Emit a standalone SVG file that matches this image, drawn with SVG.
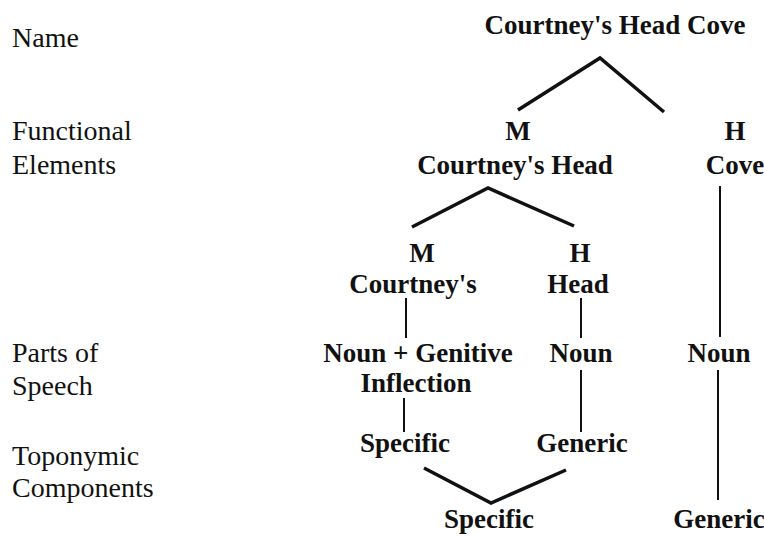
<svg xmlns="http://www.w3.org/2000/svg" width="764" height="537" viewBox="0 0 764 537">
  <style>
    .lbl { font-family: "Liberation Serif", "Times New Roman", serif; font-size: 28px; fill: #111; }
    .node { font-family: "Liberation Serif", "Times New Roman", serif; font-size: 27px; font-weight: bold; fill: #111; text-anchor: middle; }
    .branch { fill: none; stroke: #111; stroke-width: 3.5; stroke-linejoin: miter; }
    .stem { fill: none; stroke: #111; stroke-width: 2; }
  </style>
  <rect width="764" height="537" fill="#fff"/>

  <!-- level labels -->
  <g id="level-labels">
    <text class="lbl" x="12" y="47">Name</text>
    <text class="lbl" x="12" y="140">Functional</text>
    <text class="lbl" x="12" y="174">Elements</text>
    <text class="lbl" x="12" y="362">Parts of</text>
    <text class="lbl" x="12" y="395">Speech</text>
    <text class="lbl" x="12" y="465">Toponymic</text>
    <text class="lbl" x="12" y="497">Components</text>
  </g>

  <!-- connectors -->
  <g id="connectors">
    <polyline class="branch" points="518,110 600,58 664,112"/>
    <polyline class="branch" points="412,227 488,188 574,226"/>
    <line class="stem" x1="720" y1="186" x2="720" y2="337"/>
    <line class="stem" x1="406" y1="298" x2="406" y2="338"/>
    <line class="stem" x1="581" y1="298" x2="581" y2="338"/>
    <line class="stem" x1="404" y1="398" x2="404" y2="432"/>
    <line class="stem" x1="581" y1="370" x2="581" y2="432"/>
    <line class="stem" x1="718" y1="370" x2="718" y2="500"/>
    <polyline class="branch" points="424,468 491,503 566,470"/>
  </g>

  <g id="name"><text class="node" x="615" y="34">Courtney's Head Cove</text></g>
  <g id="m-courtneys-head">
    <text class="node" x="518" y="140">M</text>
    <text class="node" x="515" y="174">Courtney's Head</text>
  </g>
  <g id="h-cove">
    <text class="node" x="735" y="140">H</text>
    <text class="node" x="735" y="174">Cove</text>
  </g>
  <g id="m-courtneys">
    <text class="node" x="422" y="262">M</text>
    <text class="node" x="413" y="293">Courtney's</text>
  </g>
  <g id="h-head">
    <text class="node" x="580" y="262">H</text>
    <text class="node" x="578" y="293">Head</text>
  </g>
  <g id="pos-genitive">
    <text class="node" x="418" y="362">Noun + Genitive</text>
    <text class="node" x="416" y="392">Inflection</text>
  </g>
  <g id="pos-noun-head"><text class="node" x="581" y="362">Noun</text></g>
  <g id="pos-noun-cove"><text class="node" x="719" y="362">Noun</text></g>
  <g id="comp-specific"><text class="node" x="405" y="452">Specific</text></g>
  <g id="comp-generic"><text class="node" x="582" y="452">Generic</text></g>
  <g id="comp-specific-total"><text class="node" x="489" y="528">Specific</text></g>
  <g id="comp-generic-total"><text class="node" x="719" y="528">Generic</text></g>
</svg>
